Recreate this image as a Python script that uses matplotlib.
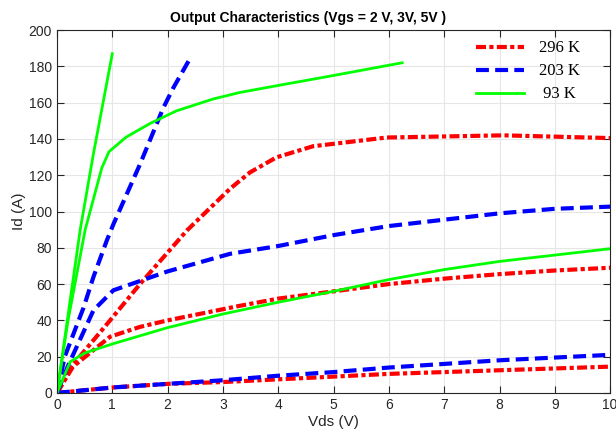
import matplotlib
matplotlib.use("Agg")
import matplotlib.pyplot as plt

plt.rcParams["font.family"] = ["Liberation Sans", "DejaVu Sans"]

# ===== data =====
# 296 K (red)
r_hi_x = [0, 0.3, 0.96, 1.5, 2.35, 3.13, 3.49, 3.97, 4.63, 5.96, 8.07, 10]
r_hi_y = [0, 16, 40, 60, 89.6, 112.6, 121.6, 129.9, 136, 140.8, 142, 140.5]
r_mid_x = [0, 0.29, 0.96, 1.5, 2, 3.3, 4, 5, 6, 7, 8, 9, 10]
r_mid_y = [0, 14.5, 31, 36.4, 40, 48, 52, 56, 60, 63, 65.5, 67.5, 69]
r_lo_x = [0, 1, 2, 3, 4, 5, 6, 7, 8, 9, 10]
r_lo_y = [0, 3, 5, 6, 7.5, 9, 10.5, 11.5, 12.5, 13.5, 14.5]

# 203 K (blue)
b_hi_x = [0, 0.14, 0.48, 0.66, 0.9, 1.02, 1.5, 1.92, 2.1, 2.43]
b_hi_y = [0, 20, 47, 64, 84, 93, 126, 157, 168, 185.7]
b_mid_x = [0, 0.2, 0.66, 1.02, 2, 3.13, 4, 5, 6, 7, 8, 9, 10]
b_mid_y = [0, 15, 45.6, 56.6, 67, 76.7, 81, 87, 92, 95.5, 99, 101.5, 102.7]
b_lo_x = [0, 1, 2, 3, 4, 5, 6, 7, 8, 9, 10]
b_lo_y = [0, 3, 5, 7, 9.5, 11.5, 14, 16, 18, 19.5, 21]

# 93 K (green)
g_hi_x = [0, 0.42, 0.66, 1.0]
g_hi_y = [0, 90, 132, 187]
g_mid_x = [0, 0.2, 0.51, 0.81, 0.94, 1.25, 1.68, 2.16, 2.82, 3.3, 4, 5, 6.24]
g_mid_y = [0, 40, 90, 124, 133, 141, 148.5, 155.5, 162, 165.6, 169.5, 175, 182]
g_lo_x = [0, 0.24, 0.5, 1, 2, 3, 4, 5, 6, 7, 8, 9, 10]
g_lo_y = [0, 17.2, 22, 27, 36, 43.5, 50, 56, 62.5, 68, 72.5, 76, 79.5]

red_ls = (0, (2.4, 0.8, 1.0, 0.8))
blue_ls = (0, (3.1, 1.5))

fig = plt.figure(figsize=(6.16, 4.43), dpi=100)
ax = fig.add_axes([0.0925, 0.113, 0.898, 0.819])

ax.plot(r_hi_x, r_hi_y, color="#ff0000", lw=3, ls=red_ls, label="296 K")
ax.plot(r_mid_x, r_mid_y, color="#ff0000", lw=3, ls=red_ls)
ax.plot(r_lo_x, r_lo_y, color="#ff0000", lw=3, ls=red_ls)
ax.plot(b_hi_x, b_hi_y, color="#0000ff", lw=3, ls=blue_ls, label="203 K")
ax.plot(b_mid_x, b_mid_y, color="#0000ff", lw=3, ls=blue_ls)
ax.plot(b_lo_x, b_lo_y, color="#0000ff", lw=3, ls=blue_ls)
ax.plot(g_hi_x, g_hi_y, color="#00ff00", lw=2, label=" 93 K")
ax.plot(g_mid_x, g_mid_y, color="#00ff00", lw=2)
ax.plot(g_lo_x, g_lo_y, color="#00ff00", lw=2)

ax.set_xlim(0, 10)
ax.set_ylim(0, 200)
ax.set_xticks(range(0, 11))
ax.set_yticks(range(0, 201, 20))
ax.tick_params(direction="in", top=True, right=True, labelsize=10, colors="#262626", length=5)
ax.grid(True, color="#e6e6e6", lw=0.8)
ax.set_axisbelow(True)
for s in ax.spines.values():
    s.set_color("#262626")

ax.set_xlabel("Vds (V)", fontsize=11, color="#262626", labelpad=2)
ax.set_ylabel("Id (A)", fontsize=11, color="#262626", labelpad=2)
ax.set_title("Output Characteristics (Vgs = 2 V, 3V, 5V )", fontsize=10, fontweight="bold",
             x=0.454, pad=6)

ax.legend(loc="upper right", bbox_to_anchor=(0.972, 1.013), frameon=False,
          prop={"family": "Liberation Serif", "size": 12}, handlelength=2.9,
          labelspacing=0.42, handletextpad=0.85)

fig.savefig("out.png", dpi=100)
